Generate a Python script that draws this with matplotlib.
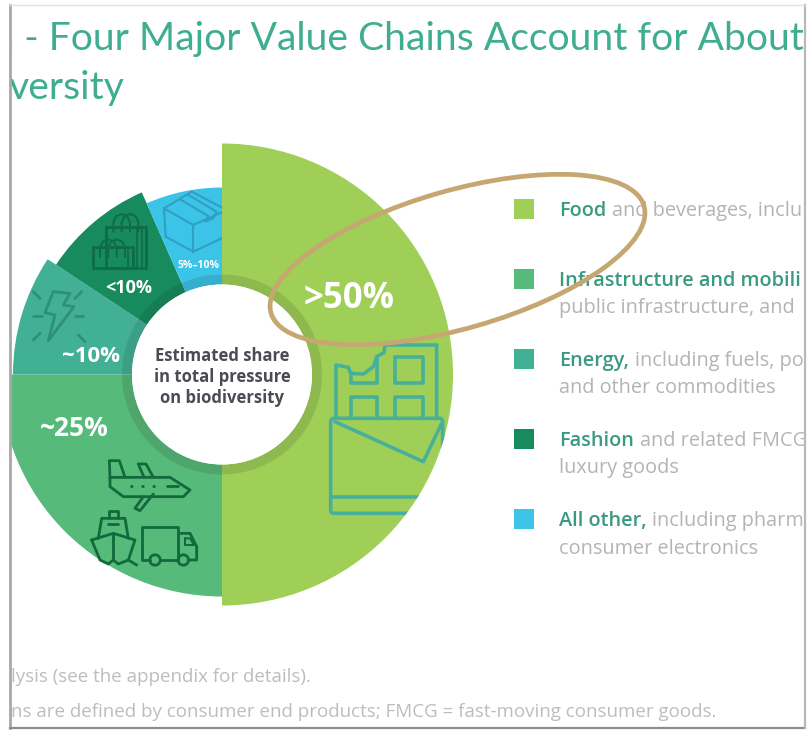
#!/usr/bin/env python3
"""Donut of estimated pressure on biodiversity by value chain, cropped slide look."""
import matplotlib
matplotlib.use("Agg")
import matplotlib.pyplot as plt
from matplotlib.patches import Wedge, Rectangle, Ellipse, Circle, FancyBboxPatch

# ---- data ----
categories = ["Food", "Infrastructure and mobility", "Energy", "Fashion", "All other"]
shares = [50.0, 25.0, 9.3, 9.1, 6.6]
share_labels = [">50%", "~25%", "~10%", "<10%", "5%\u201310%"]
legend_heads = ["Food", "Infrastructure and mobili", "Energy,", "Fashion", "All other,"]
legend_tails = ["and beverages, inclu", "", "including fuels, po", "and related FMCG", "including pharm"]
legend_second = ["", "public infrastructure, and", "and other commodities", "luxury goods", "consumer electronics"]
center_lines = ["Estimated share", "in total pressure", "on biodiversity"]
title_lines = [". - Four Major Value Chains Account for About", "versity"]
foot_lines = ["lysis (see the appendix for details).",
              "ns are defined by consumer end products; FMCG = fast-moving consumer goods."]

# ---- style ----
colors = ["#A0CF57", "#56BA7A", "#41B095", "#178A5E", "#3CC3E8"]
outer_r = [231, 222, 209, 199, 187]
label_sizes = [25, 19, 16, 13, 7.5]
label_xy = [(349, 297), (74, 427), (91, 354), (129, 286), (199, 264)]
legend_y = [(209, None), (279, 306), (359, 386), (439, 466), (519, 547)]
CX, CY = 222, 374.5
BODY = "Open Sans"
TITLE = "Lato"

fig = plt.figure(figsize=(8.07, 7.32), dpi=100, facecolor="white")
ax = fig.add_axes([0, 0, 1, 1])
ax.set_xlim(0, 807)
ax.set_ylim(732, 0)
ax.axis("off")

# the slide sits inside a thin shadowed frame, everything is cropped by it
frame = Rectangle((11, 5), 794, 722, fc="white", ec="none", zorder=0)
ax.add_patch(frame)


def put_text(x, y, s, **kw):
    t = ax.text(x, y, s, va="center", clip_on=True, **kw)
    t.set_clip_path(frame)
    return t


def poly(pts, color, lw=2.0, closed=False, clip=frame, z=4, scale=3.0, ox=0, oy=0):
    xs = [p[0] / scale + ox for p in pts]
    ys = [p[1] / scale + oy for p in pts]
    if closed:
        xs.append(xs[0])
        ys.append(ys[0])
    line, = ax.plot(xs, ys, color=color, lw=lw, solid_joinstyle="round",
                    solid_capstyle="round", zorder=z)
    line.set_clip_path(clip)
    return line


# ---- donut ----
start = -90.0
wedges = []
for share, col, r in zip(shares, colors, outer_r):
    end = start + share * 3.6
    w = Wedge((CX, CY), r, start, end, width=r - 90, fc=col, ec="none", zorder=2)
    ax.add_patch(w)
    w.set_clip_path(frame)
    wedges.append(w)
    start = end
food_wedge = wedges[0]
food_wedge.set_zorder(3)

ring = Wedge((CX, CY), 100, 0, 360, width=10, fc=(0.1, 0.15, 0.1, 0.13), ec="none", zorder=5)
ax.add_patch(ring)
ax.add_patch(Circle((CX, CY), 90, fc="white", ec="none", zorder=5))

# ---- icons ----
# shopping bags
BAG = "#0F6B48"
poly([(318, 290), (437, 290), (437, 415), (318, 415)], BAG, closed=True, oy=130)
poly([(425, 290), (425, 415)], BAG, 1.2, oy=130)
poly([(412, 290), (412, 415)], BAG, 1.2, oy=130)
poly([(278, 352), (400, 352), (400, 415), (278, 415)], BAG, closed=True, oy=130)
poly([(385, 352), (385, 415)], BAG, 1.2, oy=130)
for x0 in (340, 365, 300, 325):
    top = 252 if x0 > 330 else 328
    poly([(x0, top + 53), (x0, top + 25), (x0 + 8, top + 7), (x0 + 25, top),
          (x0 + 42, top + 7), (x0 + 50, top + 25), (x0 + 50, top + 53)], BAG, 1.4, oy=130)

# bolt with rays
BOLT = "#2F8F78"
poly([(160, 485), (210, 490), (190, 525), (222, 530), (145, 632), (165, 555), (135, 548)],
     BOLT, closed=True, oy=130)
for a, b in [((100, 485), (120, 505)), ((245, 485), (225, 505)), ((100, 558), (125, 558)),
             ((225, 558), (250, 558)), ((100, 630), (120, 610)), ((235, 615), (255, 635))]:
    poly([a, b], BOLT, oy=130)

# parcel, the food wedge covers its right side
BOX = "#2FA0C0"
poly([(492, 235), (575, 185), (680, 240), (580, 285), (492, 235), (497, 320), (580, 365), (680, 318)],
     BOX, 1.5, oy=130, z=2.5)
poly([(580, 285), (580, 365)], BOX, 1.5, oy=130, z=2.5)
poly([(540, 208), (625, 258), (615, 275), (640, 265), (650, 245), (565, 195)], BOX, 1.5, oy=130, z=2.5)

# plane, ship and truck
TRANS = "#12693C"
poly([(330, 262), (510, 262), (570, 300), (550, 320), (370, 320), (330, 290)], TRANS, closed=True, oy=390)
poly([(330, 262), (328, 212), (358, 212), (375, 262)], TRANS, oy=390)
poly([(415, 222), (438, 222), (460, 262)], TRANS, oy=390)
poly([(415, 222), (432, 262)], TRANS, oy=390)
poly([(430, 320), (405, 355), (420, 362), (460, 312)], TRANS, oy=390)
poly([(390, 287), (490, 287)], TRANS, oy=390).set_linestyle((0, (1, 3)))
poly([(500, 287), (535, 287)], TRANS, oy=390)
poly([(275, 450), (340, 430), (405, 450), (385, 510), (355, 522), (340, 510), (325, 522), (300, 510)],
     TRANS, closed=True, oy=390)
poly([(295, 445), (305, 385), (375, 385), (385, 445)], TRANS, oy=390)
poly([(328, 385), (328, 362), (355, 362), (355, 385)], TRANS, oy=390)
poly([(325, 403), (355, 403)], TRANS, oy=390)
poly([(340, 430), (340, 510)], TRANS, oy=390)
poly([(385, 510), (410, 525)], TRANS, oy=390)
poly([(450, 510), (425, 510), (425, 410), (535, 410), (535, 510), (480, 510)], TRANS, oy=390)
poly([(535, 430), (570, 430), (590, 470), (590, 510), (565, 510)], TRANS, oy=390)
poly([(555, 445), (570, 445), (582, 465), (555, 465), (555, 445)], TRANS, 1.4, oy=390)
for wx in (465, 550):
    ax.add_patch(Circle((wx / 3, 510 / 3 + 390), 5.2, fc="none", ec=TRANS, lw=2.0, zorder=4))

# chocolate bar, cropped by the food wedge
CHOC = "#46B09A"
kw = dict(lw=2.6, clip=food_wedge, ox=260, oy=160)
poly([(228, 775), (228, 615), (265, 622), (272, 640), (310, 642), (340, 620), (350, 590),
      (372, 578), (375, 555), (530, 555), (530, 775)], CHOC, **kw)
poly([(272, 640), (272, 668), (350, 668), (350, 590)], CHOC, **kw)
poly([(405, 592), (490, 592), (490, 668), (405, 668)], CHOC, closed=True, **kw)
poly([(272, 775), (272, 710), (350, 710), (350, 775)], CHOC, **kw)
poly([(405, 775), (405, 710), (490, 710), (490, 775)], CHOC, **kw)
poly([(225, 785), (490, 905), (545, 790)], CHOC, **kw)
poly([(212, 1010), (545, 1010)], CHOC, **kw)
wrap = FancyBboxPatch((260 + 212 / 3, 160 + 775 / 3), 112, 95, boxstyle="round,pad=0,rounding_size=3",
                      fc="none", ec=CHOC, lw=2.6, zorder=4)
ax.add_patch(wrap)
wrap.set_clip_path(food_wedge)

# ---- texts on the donut ----
for lab, (lx, ly), size in zip(share_labels, label_xy, label_sizes):
    ax.text(lx, ly + 2, lab, color="white", fontsize=size, family=BODY, weight="bold",
            ha="center", va="center", zorder=6)
for i, line in enumerate(center_lines):
    ax.text(CX, 356 + i * 21, line, color="#4B4B55", fontsize=12, family=BODY, weight="bold",
            ha="center", va="center", zorder=6)

# ---- legend ----
renderer = fig.canvas.get_renderer()
for i, col in enumerate(colors):
    ax.add_patch(Rectangle((514, legend_y[i][0] - 10), 20, 20, fc=col, ec="none", zorder=2))
    y1, y2 = legend_y[i]
    head = put_text(559, y1 + 2, legend_heads[i], color="#3A9A7F", fontsize=14.3, family=BODY,
                    weight="semibold", zorder=2)
    if legend_tails[i]:
        x_end = head.get_window_extent(renderer).x1
        put_text(x_end + 6, y1 + 2, legend_tails[i], color="#B4B4B4", fontsize=14.3, family=BODY, zorder=2)
    if y2 is not None:
        put_text(559, y2 + 2, legend_second[i], color="#B4B4B4", fontsize=14.3, family=BODY, zorder=2)

# ---- title and foot ----
put_text(5, 39, title_lines[0], color="#3FAE90", fontsize=28.2, family=TITLE, zorder=2)
put_text(9, 88, title_lines[1], color="#3FAE90", fontsize=28.2, family=TITLE, zorder=2)
put_text(11, 677, foot_lines[0], color="#BDBDBD", fontsize=13.5, family=BODY, zorder=2)
put_text(11, 712, foot_lines[1], color="#BDBDBD", fontsize=13.5, family=BODY, zorder=2)

# ---- highlight ellipse ----
ax.add_patch(Ellipse((457.5, 259.5), 388, 138, angle=-16, fc="none", ec="#C6A771", lw=3.4, zorder=8))

# ---- frame shadow ----
ax.plot([10, 10], [5, 728], color="#A8A8A8", lw=2.0, zorder=9)
ax.plot([10, 805], [728, 728], color="#8C8C8C", lw=1.6, zorder=9)
ax.plot([805, 805], [5, 728], color="#B8B8B8", lw=1.6, zorder=9)
ax.plot([10, 805], [5, 5], color="#E2E2E2", lw=1.0, zorder=9)

fig.savefig("out.png", dpi=100)
